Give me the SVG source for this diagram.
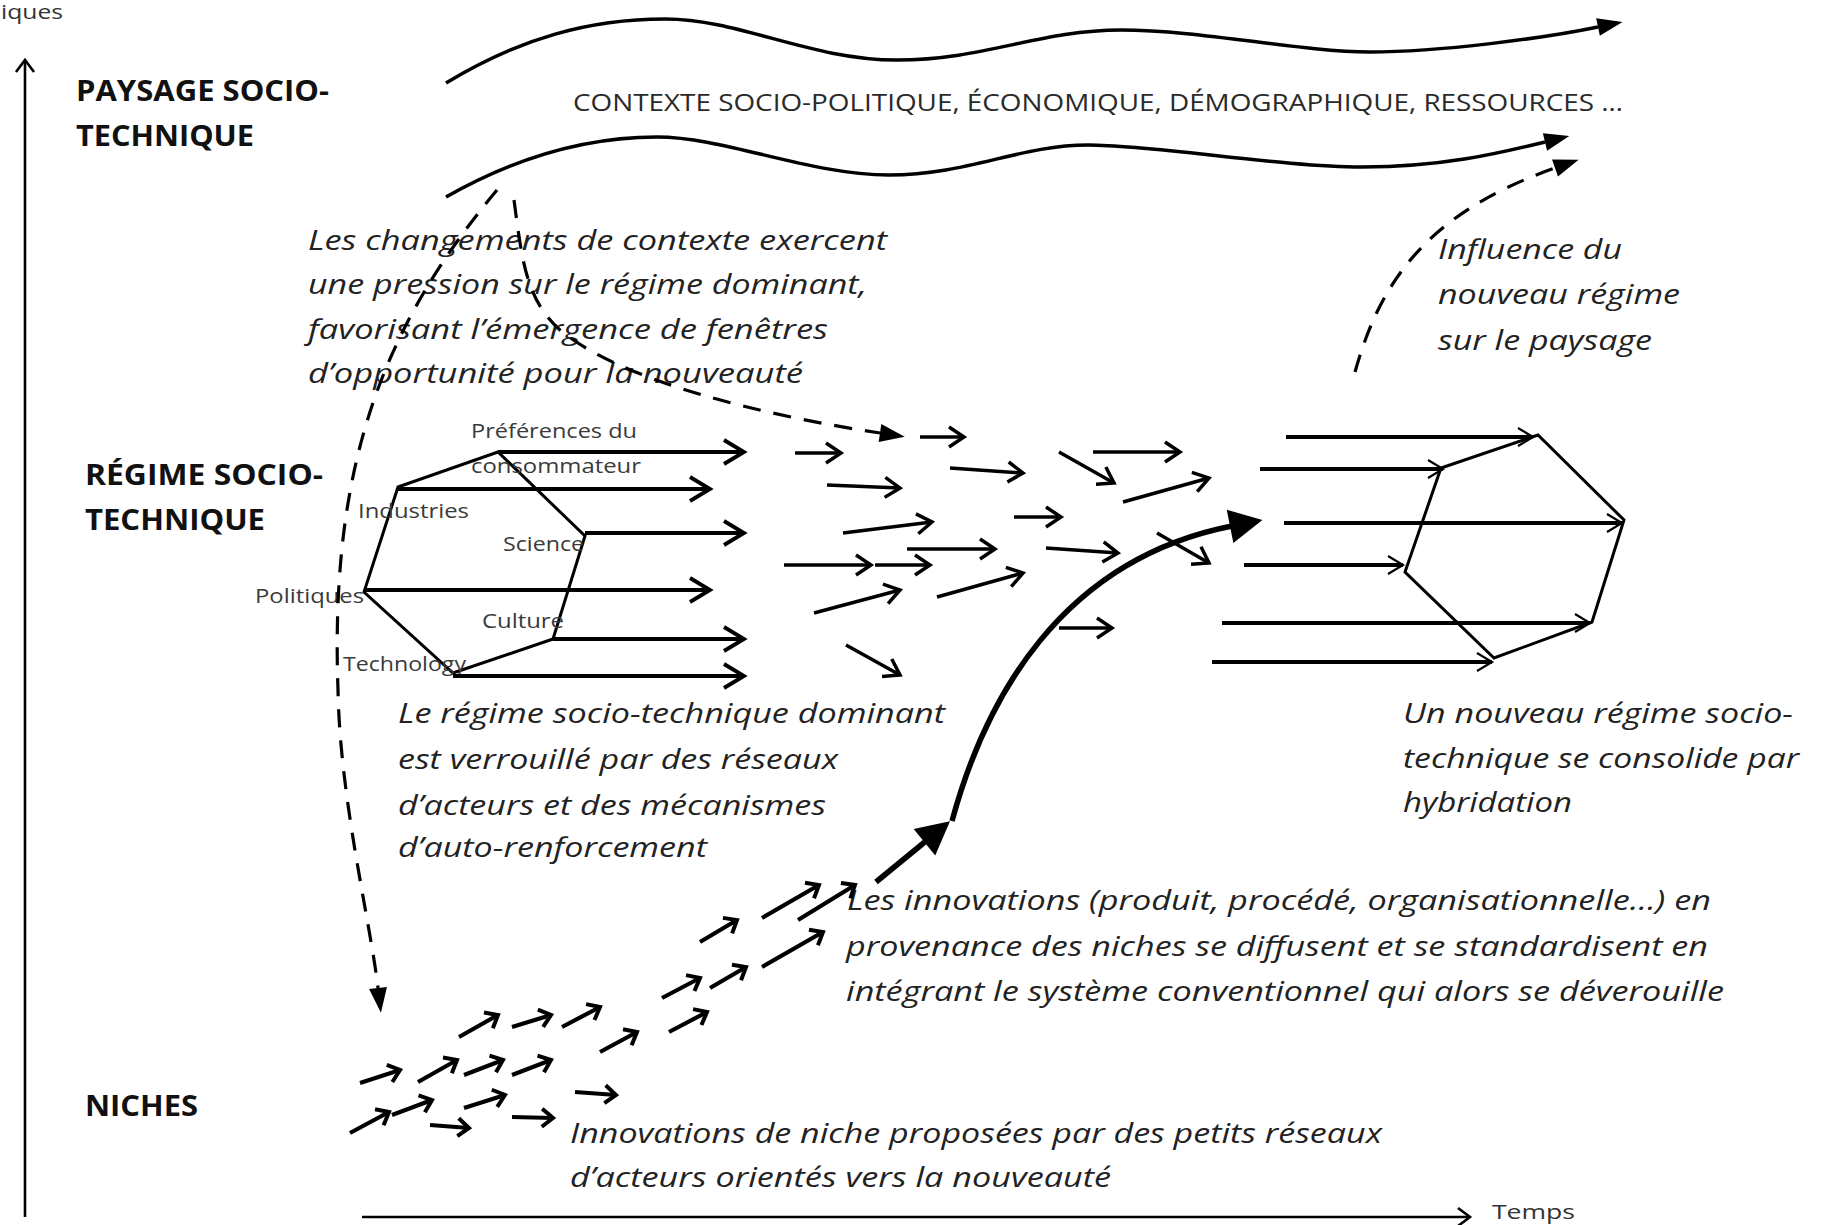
<svg xmlns="http://www.w3.org/2000/svg" width="1824" height="1225" viewBox="0 0 1824 1225">
<style>
.it{font-family:"Open Sans","Liberation Sans",sans-serif;font-style:italic;font-size:27px;fill:#222}
.lb{font-family:"Open Sans","Liberation Sans",sans-serif;font-size:20px;fill:#3a3a3a}
.bd{font-family:"Open Sans","Liberation Sans",sans-serif;font-weight:bold;font-size:28px;fill:#111}
.ctx{font-family:"Open Sans","Liberation Sans",sans-serif;font-size:24px;fill:#2a2a2a}
.ax{font-family:"Open Sans","Liberation Sans",sans-serif;font-size:20px;fill:#333}
.wave{fill:none;stroke:#000;stroke-width:3.5}
.dash{fill:none;stroke:#000;stroke-width:3.2;stroke-dasharray:18 13}
.hex{fill:none;stroke:#000;stroke-width:3}
.ha{stroke:#000;stroke-width:3.8;fill:none}
.ma{stroke:#000;stroke-width:3.5;fill:none;marker-end:url(#vm)}
.na{stroke:#000;stroke-width:4.2;fill:none;marker-end:url(#vn)}
.ra{stroke:#000;stroke-width:3.8;fill:none;marker-end:url(#vt)}
.axis{stroke:#000;stroke-width:2.6;fill:none;marker-end:url(#va)}
</style>
<defs>
<marker id="tri" markerUnits="userSpaceOnUse" orient="auto" markerWidth="30" markerHeight="20" overflow="visible" style="overflow:visible"><path d="M0,-9 L25,0 L0,9 Z" fill="#000"/></marker>
<marker id="big" markerUnits="userSpaceOnUse" orient="auto" markerWidth="40" markerHeight="40" overflow="visible" style="overflow:visible"><path d="M-2,-17 L31,0 L-2,17 Z" fill="#000"/></marker>
<marker id="vh" markerUnits="userSpaceOnUse" orient="auto" markerWidth="30" markerHeight="30" overflow="visible" style="overflow:visible"><path d="M-20,-12 L0,0 L-20,12" fill="none" stroke="#000" stroke-width="3.8"/></marker>
<marker id="vm" markerUnits="userSpaceOnUse" orient="auto" markerWidth="30" markerHeight="30" overflow="visible" style="overflow:visible"><path d="M-15,-10 L0,0 L-15,10" fill="none" stroke="#000" stroke-width="3.5"/></marker>
<marker id="vn" markerUnits="userSpaceOnUse" orient="auto" markerWidth="30" markerHeight="30" overflow="visible" style="overflow:visible"><path d="M-11,-9 L0,0 L-11,9" fill="none" stroke="#000" stroke-width="4"/></marker>
<marker id="vt" markerUnits="userSpaceOnUse" orient="auto" markerWidth="30" markerHeight="30" overflow="visible" style="overflow:visible"><path d="M-15,-9 L0,0 L-15,9" fill="none" stroke="#000" stroke-width="2.2"/></marker>
<marker id="va" markerUnits="userSpaceOnUse" orient="auto" markerWidth="30" markerHeight="30" overflow="visible" style="overflow:visible"><path d="M-12,-9 L0,0 L-12,9" fill="none" stroke="#000" stroke-width="2.6"/></marker>
</defs>
<rect width="1824" height="1225" fill="#fff"/>

<g id="axes">
<line class="axis" x1="25" y1="1217" x2="25" y2="60"/>
<line class="axis" x1="362" y1="1217" x2="1470" y2="1217"/>
<text class="ax" x="1" y="19" textLength="62" lengthAdjust="spacingAndGlyphs">iques</text>
<text class="ax" x="1492" y="1219" textLength="83" lengthAdjust="spacingAndGlyphs">Temps</text>
</g>

<g id="level-labels">
<text class="bd" x="76" y="101" textLength="253" lengthAdjust="spacingAndGlyphs">PAYSAGE SOCIO-</text>
<text class="bd" x="76" y="146" textLength="178" lengthAdjust="spacingAndGlyphs">TECHNIQUE</text>
<text class="bd" x="85" y="485" textLength="238" lengthAdjust="spacingAndGlyphs">RÉGIME SOCIO-</text>
<text class="bd" x="85" y="530" textLength="180" lengthAdjust="spacingAndGlyphs">TECHNIQUE</text>
<text class="bd" x="85" y="1116" textLength="113" lengthAdjust="spacingAndGlyphs">NICHES</text>
</g>

<g id="landscape">
<path class="wave" marker-end="url(#tri)" d="M446,83 C520,38 590,19 665,19 S810,60 897,60 S1040,30 1121,30 S1300,52 1370,52 S1545,38 1598,27"/>
<path class="wave" marker-end="url(#tri)" d="M446,197 C520,155 590,137 657,137 S810,175 889,175 S1020,145 1088,145 S1280,167 1362,167 S1500,153 1545,142"/>
<text class="ctx" x="573" y="111" textLength="1050" lengthAdjust="spacingAndGlyphs">CONTEXTE SOCIO-POLITIQUE, ÉCONOMIQUE, DÉMOGRAPHIQUE, RESSOURCES …</text>
</g>

<g id="regime-dominant">
<polygon class="hex" points="498,452 398,487 364,592 453,673 553,639 585,536"/>
<text class="lb" x="471" y="438" textLength="166" lengthAdjust="spacingAndGlyphs">Préférences du</text>
<text class="lb" x="471" y="473" textLength="170" lengthAdjust="spacingAndGlyphs">consommateur</text>
<text class="lb" x="358" y="518" textLength="111" lengthAdjust="spacingAndGlyphs">Industries</text>
<text class="lb" x="503" y="551" textLength="81" lengthAdjust="spacingAndGlyphs">Science</text>
<text class="lb" x="255" y="603" textLength="109" lengthAdjust="spacingAndGlyphs">Politiques</text>
<text class="lb" x="482" y="628" textLength="82" lengthAdjust="spacingAndGlyphs">Culture</text>
<text class="lb" x="343" y="671" textLength="123" lengthAdjust="spacingAndGlyphs">Technology</text>
</g>

<g id="regime-nouveau">
<polygon class="hex" points="1538,435 1441,468 1405,572 1494,658 1592,622 1624,520"/>
</g>

<g id="texts">
<text class="it" x="308" y="250" textLength="579" lengthAdjust="spacingAndGlyphs">Les changements de contexte exercent</text>
<text class="it" x="308" y="294" textLength="559" lengthAdjust="spacingAndGlyphs">une pression sur le régime dominant,</text>
<text class="it" x="308" y="339" textLength="520" lengthAdjust="spacingAndGlyphs">favorisant l’émergence de fenêtres</text>
<text class="it" x="308" y="383" textLength="495" lengthAdjust="spacingAndGlyphs">d’opportunité pour  la nouveauté</text>

<text class="it" x="1438" y="259" textLength="184" lengthAdjust="spacingAndGlyphs">Influence du</text>
<text class="it" x="1438" y="304" textLength="242" lengthAdjust="spacingAndGlyphs">nouveau régime</text>
<text class="it" x="1438" y="350" textLength="214" lengthAdjust="spacingAndGlyphs">sur le paysage</text>

<text class="it" x="398" y="723" textLength="547" lengthAdjust="spacingAndGlyphs">Le régime socio-technique dominant</text>
<text class="it" x="398" y="769" textLength="440" lengthAdjust="spacingAndGlyphs">est verrouillé par des réseaux</text>
<text class="it" x="398" y="815" textLength="428" lengthAdjust="spacingAndGlyphs">d’acteurs et des mécanismes</text>
<text class="it" x="398" y="857" textLength="309" lengthAdjust="spacingAndGlyphs">d’auto-renforcement</text>

<text class="it" x="1403" y="723" textLength="390" lengthAdjust="spacingAndGlyphs">Un nouveau régime socio-</text>
<text class="it" x="1403" y="768" textLength="396" lengthAdjust="spacingAndGlyphs">technique se consolide par</text>
<text class="it" x="1403" y="812" textLength="169" lengthAdjust="spacingAndGlyphs">hybridation</text>

<text class="it" x="847" y="910" textLength="864" lengthAdjust="spacingAndGlyphs">Les innovations (produit, procédé, organisationnelle…) en</text>
<text class="it" x="846" y="956" textLength="862" lengthAdjust="spacingAndGlyphs">provenance des niches se diffusent et se standardisent en</text>
<text class="it" x="846" y="1001" textLength="878" lengthAdjust="spacingAndGlyphs">intégrant le système conventionnel qui alors se déverouille</text>

<text class="it" x="570" y="1143" textLength="812" lengthAdjust="spacingAndGlyphs">Innovations de niche proposées par des petits réseaux</text>
<text class="it" x="570" y="1187" textLength="541" lengthAdjust="spacingAndGlyphs">d’acteurs orientés vers la nouveauté</text>
</g>

<g id="connectors">
<path class="dash" d="M497,190 C380,330 330,470 338,690 C340,800 370,920 378,988" marker-end="url(#tri)"/>
<path class="dash" d="M514,200 C522,260 526,300 560,330 C620,380 760,415 880,433" marker-end="url(#tri)"/>
<path class="dash" d="M1355,372 C1378,290 1420,215 1555,168" marker-end="url(#tri)"/>

<g id="regime-arrows-left">
<line class="ha" marker-end="url(#vh)" x1="498" y1="452" x2="744" y2="452"/>
<line class="ha" marker-end="url(#vh)" x1="398" y1="489" x2="710" y2="489"/>
<line class="ha" marker-end="url(#vh)" x1="585" y1="533" x2="744" y2="533"/>
<line class="ha" marker-end="url(#vh)" x1="364" y1="590" x2="710" y2="590"/>
<line class="ha" marker-end="url(#vh)" x1="553" y1="639" x2="744" y2="639"/>
<line class="ha" marker-end="url(#vh)" x1="453" y1="676" x2="744" y2="676"/>
</g>

<g id="transition-arrows">
<line class="ma" x1="920" y1="437" x2="964" y2="437"/>
<line class="ma" x1="795" y1="453" x2="841" y2="453"/>
<line class="ma" x1="950" y1="468" x2="1023" y2="473"/>
<line class="ma" x1="1059" y1="452" x2="1114" y2="483"/>
<line class="ma" x1="1093" y1="452" x2="1180" y2="452"/>
<line class="ma" x1="1123" y1="502" x2="1209" y2="478"/>
<line class="ma" x1="827" y1="485" x2="900" y2="488"/>
<line class="ma" x1="843" y1="533" x2="932" y2="522"/>
<line class="ma" x1="1014" y1="517" x2="1061" y2="517"/>
<line class="ma" x1="784" y1="565" x2="871" y2="565"/>
<line class="ma" x1="875" y1="565" x2="930" y2="565"/>
<line class="ma" x1="907" y1="549" x2="995" y2="549"/>
<line class="ma" x1="814" y1="613" x2="900" y2="590"/>
<line class="ma" x1="937" y1="597" x2="1023" y2="573"/>
<line class="ma" x1="1046" y1="548" x2="1118" y2="553"/>
<line class="ma" x1="1157" y1="533" x2="1209" y2="563"/>
<line class="ma" x1="1059" y1="628" x2="1112" y2="628"/>
<line class="ma" x1="846" y1="645" x2="900" y2="675"/>
</g>

<g id="regime-arrows-right">
<line class="ra" x1="1286" y1="437" x2="1533" y2="437"/>
<line class="ra" x1="1260" y1="469" x2="1443" y2="469"/>
<line class="ra" x1="1284" y1="523" x2="1622" y2="523"/>
<line class="ra" x1="1244" y1="565" x2="1403" y2="565"/>
<line class="ra" x1="1222" y1="623" x2="1590" y2="623"/>
<line class="ra" x1="1212" y1="662" x2="1492" y2="662"/>
</g>

<g id="niche-arrows">
<line class="na" x1="360" y1="1083" x2="400" y2="1070"/>
<line class="na" x1="418" y1="1082" x2="457" y2="1060"/>
<line class="na" x1="464" y1="1075" x2="503" y2="1060"/>
<line class="na" x1="512" y1="1075" x2="551" y2="1060"/>
<line class="na" x1="350" y1="1133" x2="389" y2="1112"/>
<line class="na" x1="392" y1="1115" x2="432" y2="1100"/>
<line class="na" x1="430" y1="1125" x2="469" y2="1128"/>
<line class="na" x1="464" y1="1108" x2="505" y2="1095"/>
<line class="na" x1="512" y1="1117" x2="553" y2="1118"/>
<line class="na" x1="575" y1="1092" x2="616" y2="1095"/>
<line class="na" x1="459" y1="1037" x2="498" y2="1015"/>
<line class="na" x1="512" y1="1027" x2="551" y2="1015"/>
<line class="na" x1="562" y1="1027" x2="600" y2="1007"/>
<line class="na" x1="600" y1="1052" x2="637" y2="1032"/>
<line class="na" x1="669" y1="1032" x2="707" y2="1012"/>
<line class="na" x1="662" y1="998" x2="700" y2="978"/>
<line class="na" x1="710" y1="988" x2="746" y2="967"/>
<line class="na" x1="700" y1="942" x2="737" y2="920"/>
<line class="na" x1="762" y1="918" x2="819" y2="885"/>
<line class="na" x1="798" y1="920" x2="855" y2="885"/>
<line class="na" x1="762" y1="967" x2="823" y2="932"/>
</g>

<g id="breakthrough">
<line x1="876" y1="882" x2="926" y2="841" stroke="#000" stroke-width="5.5" marker-end="url(#big)"/>
<path d="M952,821 C985,700 1060,560 1232,526" fill="none" stroke="#000" stroke-width="5.5" marker-end="url(#big)"/>
</g>
</g>
</svg>
